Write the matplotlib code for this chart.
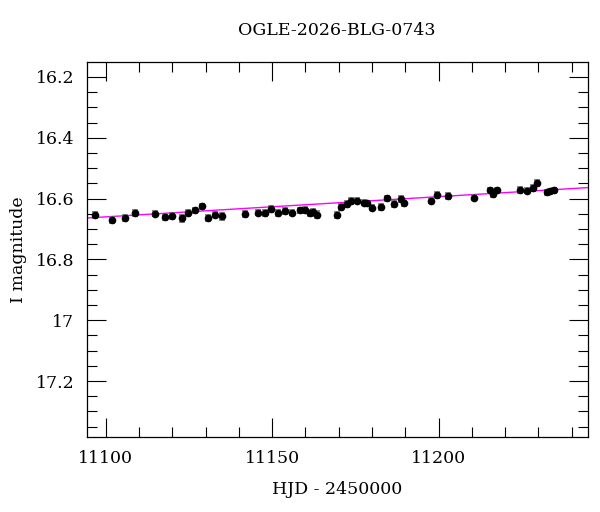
import numpy as np
import matplotlib.pyplot as plt
from matplotlib.ticker import MultipleLocator

# photometry
hjd = [11096.9, 11101.9, 11105.8, 11108.8, 11114.9, 11117.8, 11119.8, 11122.8,
       11124.8, 11126.8, 11128.8, 11130.8, 11132.8, 11134.8, 11141.8, 11145.8,
       11147.9, 11149.7, 11151.9, 11153.9, 11155.9, 11158.4, 11159.9, 11161.3,
       11162.4, 11163.4, 11169.6, 11170.8, 11172.6, 11173.8, 11175.6, 11177.6,
       11178.6, 11179.9, 11182.6, 11184.6, 11186.6, 11188.6, 11189.6, 11197.7,
       11199.5, 11202.7, 11210.6, 11215.6, 11216.5, 11217.6, 11224.4, 11226.7,
       11228.4, 11229.6, 11232.5, 11233.6, 11234.8]
mag = [16.654, 16.670, 16.665, 16.648, 16.650, 16.662, 16.657, 16.665,
       16.648, 16.639, 16.626, 16.665, 16.653, 16.658, 16.651, 16.646,
       16.648, 16.635, 16.648, 16.641, 16.646, 16.639, 16.637, 16.646,
       16.645, 16.653, 16.655, 16.627, 16.618, 16.608, 16.607, 16.613,
       16.616, 16.630, 16.627, 16.599, 16.617, 16.602, 16.616, 16.607,
       16.588, 16.593, 16.597, 16.573, 16.584, 16.573, 16.573, 16.574,
       16.566, 16.549, 16.580, 16.575, 16.573]
err = [0.009, 0.010, 0.010, 0.009, 0.008, 0.009, 0.009, 0.011,
       0.009, 0.009, 0.009, 0.010, 0.009, 0.011, 0.009, 0.009,
       0.009, 0.009, 0.009, 0.009, 0.009, 0.009, 0.009, 0.010,
       0.011, 0.012, 0.010, 0.010, 0.009, 0.009, 0.009, 0.009,
       0.009, 0.009, 0.009, 0.009, 0.010, 0.009, 0.009, 0.009,
       0.009, 0.010, 0.009, 0.009, 0.010, 0.009, 0.010, 0.009,
       0.009, 0.009, 0.009, 0.008, 0.008]

# linear trend (magenta)
fit_hjd = [11094.3, 11244.8]
fit_mag = [16.664, 16.564]

plt.rcParams['font.family'] = ['DejaVu Serif']
fig = plt.figure(figsize=(6, 5.12), dpi=100)
ax = fig.add_axes([0.1445, 0.1459, 0.835, 0.7324])

ax.plot(fit_hjd, fit_mag, color='magenta', linewidth=1.0, zorder=1)
ax.errorbar(hjd, mag, yerr=err, fmt='o', color='black', markersize=4.5,
            ecolor='#707070', elinewidth=1.2, capsize=2.5, capthick=1.2, zorder=2)

ax.set_xlim(11094.3, 11244.8)
ax.set_ylim(17.385, 16.152)

ax.xaxis.set_major_locator(MultipleLocator(50))
ax.xaxis.set_minor_locator(MultipleLocator(10))
ax.yaxis.set_major_locator(MultipleLocator(0.2))
ax.yaxis.set_minor_locator(MultipleLocator(0.05))
ax.set_yticks([16.2, 16.4, 16.6, 16.8, 17.0, 17.2])
ax.set_yticklabels(['16.2', '16.4', '16.6', '16.8', '17', '17.2'])

ax.tick_params(which='both', direction='in', top=True, right=True, labelsize=12.5, width=0.8)
ax.tick_params(which='major', length=14, pad=9)
ax.tick_params(which='minor', length=7)
for s in ax.spines.values():
    s.set_linewidth(0.9)

ax.set_xlabel('HJD - 2450000', fontsize=12.5, labelpad=10)
ax.set_ylabel('I magnitude', fontsize=12.5, labelpad=6)
ax.set_title('OGLE-2026-BLG-0743', fontsize=12.5, pad=20)

fig.savefig('out.png', dpi=100)
